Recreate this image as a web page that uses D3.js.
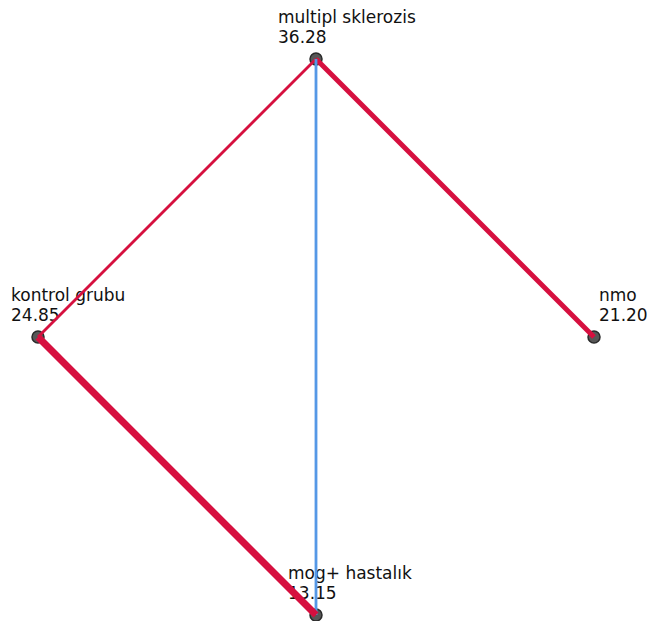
<!DOCTYPE html>
<html>
<head>
<meta charset="utf-8">
<script src="https://cdn.jsdelivr.net/npm/d3@7"></script>
<style>
  body { margin: 0; background: #fff; }
  svg text { font-family: "DejaVu Sans", sans-serif; font-size: 17px; fill: #111; }
</style>
</head>
<body>
<svg id="chart" width="647" height="621"></svg>
<script>
// group names and mean ranks, clockwise from the top
var groups = ['multipl sklerozis', 'nmo', 'mog+ hastalık', 'kontrol grubu'];
var meanRanks = [36.28, 21.20, 13.15, 24.85];

// pairwise links (index into groups), line weight and kind
var linkSource = [0, 0, 0, 3];
var linkTarget = [3, 1, 2, 2];
var linkWeight = [1, 2, 1, 3];
var linkKind   = ['red', 'red', 'blue', 'red'];

var svg = d3.select('#chart');
var cx = 316, cy = 337, radius = 278;

var angle = d3.scaleLinear().domain([0, groups.length]).range([-Math.PI / 2, 1.5 * Math.PI]);
var strokeW = d3.scaleLinear().domain([1, 3]).range([2.8, 7]);
var colour = d3.scaleOrdinal().domain(['red', 'blue']).range(['#d6103f', '#5598e6']);

var nodes = groups.map(function(g, i) {
  var a = angle(i);
  return { name: g, rank: meanRanks[i], x: cx + radius * Math.cos(a), y: cy + radius * Math.sin(a) };
});

// label offsets follow the node side
function labelDx(d) {
  if (d.x > cx + 10) return 5;
  if (d.x < cx - 10) return -27;
  return d.y < cy ? -38 : -28;
}

var labels = svg.append('g').selectAll('g')
  .data(nodes).enter().append('g')
  .attr('transform', function(d) { return 'translate(' + (d.x + labelDx(d)) + ',' + d.y + ')'; });
labels.append('text').attr('y', -36).text(function(d) { return d.name; });
labels.append('text').attr('y', -16).text(function(d) { return d.rank.toFixed(2); });

svg.append('g').selectAll('circle')
  .data(nodes).enter().append('circle')
  .attr('cx', function(d) { return d.x; })
  .attr('cy', function(d) { return d.y; })
  .attr('r', 6)
  .attr('fill', '#575757')
  .attr('stroke', '#2a2a2a')
  .attr('stroke-width', 1.5);

var links = linkSource.map(function(s, i) {
  return { s: nodes[s], t: nodes[linkTarget[i]], w: linkWeight[i], k: linkKind[i] };
});

svg.append('g').selectAll('line')
  .data(links).enter().append('line')
  .attr('x1', function(d) { return d.s.x; })
  .attr('y1', function(d) { return d.s.y; })
  .attr('x2', function(d) { return d.t.x; })
  .attr('y2', function(d) { return d.t.y; })
  .attr('stroke', function(d) { return colour(d.k); })
  .attr('stroke-width', function(d) { return strokeW(d.w); });
</script>
</body>
</html>
